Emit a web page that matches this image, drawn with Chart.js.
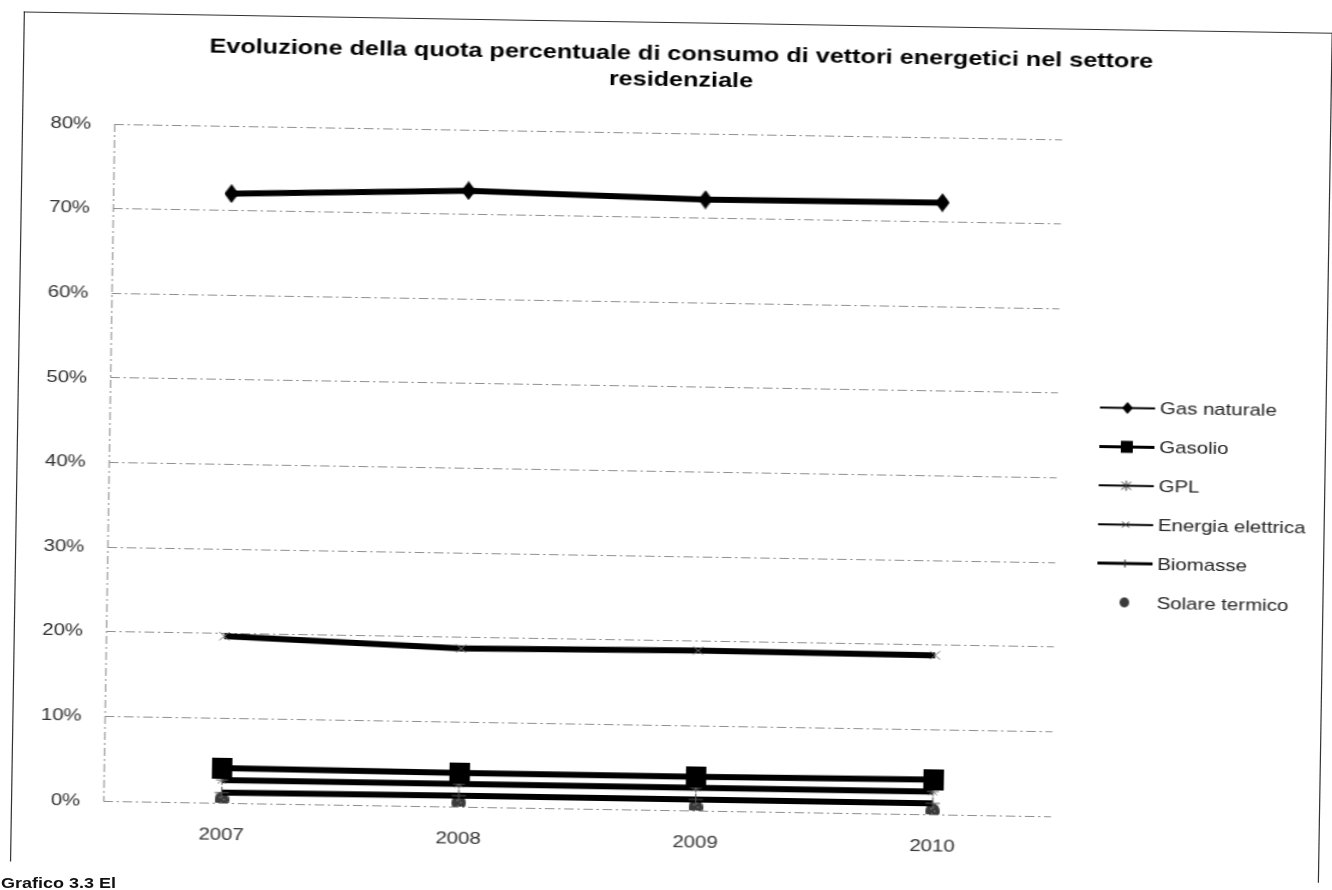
<!DOCTYPE html>
<html>
<head>
<meta charset="utf-8">
<script src="https://cdn.jsdelivr.net/npm/chart.js@4/dist/chart.umd.min.js"></script>
<style>
html,body{margin:0;padding:0;background:#fff;width:1332px;height:890px;overflow:hidden}
#wrap{position:absolute;left:111px;top:0;width:1110px;height:890px;transform-origin:555px 445px;transform:rotate(0.93deg) scale(1.2,1)}
#frame{position:absolute;left:14px;top:22px;width:1091px;height:850px;border:1.5px solid #333;border-bottom:none;box-sizing:border-box}
#c{position:absolute;left:0;top:0}
#cap{position:absolute;left:1px;top:874px;font:bold 15px "Liberation Sans",Arial,sans-serif;color:#111;transform:scaleX(1.2);transform-origin:0 0;white-space:nowrap}
</style>
</head>
<body>
<div id="wrap">
  <div id="frame"></div>
  <canvas id="c" width="1110" height="890"></canvas>
</div>
<div id="cap">Grafico 3.3 El</div>
<script>
// ---- data ----
const categories = ['2007', '2008', '2009', '2010'];
const gasNaturale = [72.0, 72.8, 72.2, 72.3];
const gasolio = [4.1, 4.0, 4.0, 4.1];
const gpl = [2.7, 2.7, 2.7, 2.7];
const energiaElettrica = [19.7, 18.7, 18.9, 18.8];
const biomasse = [1.2, 1.3, 1.3, 1.3];
const solareTermico = [0.35, 0.45, 0.35, 0.35];
const seriesLabels = ['Gas naturale', 'Gasolio', 'GPL', 'Energia elettrica', 'Biomasse', 'Solare termico'];
const titleLines = ['Evoluzione della quota percentuale di consumo di vettori energetici nel settore', 'residenziale'];
const yTickValues = [0, 10, 20, 30, 40, 50, 60, 70, 80];

const FONT = '"Liberation Sans", Arial, sans-serif';

// ---- marker images ----
function mk(w, h, draw) {
  const c = document.createElement('canvas');
  c.width = w; c.height = h;
  const g = c.getContext('2d');
  draw(g, w, h);
  return c;
}
function diamond(w, h) {
  return mk(w, h, (g) => {
    g.fillStyle = '#000';
    g.beginPath(); g.moveTo(w / 2, 0); g.lineTo(w, h / 2); g.lineTo(w / 2, h); g.lineTo(0, h / 2); g.closePath(); g.fill();
  });
}
function square(w, h) {
  return mk(w, h, (g) => { g.fillStyle = '#000'; g.fillRect(0, 0, w, h); });
}
function blob(w, h) {
  return mk(w, h, (g) => {
    g.fillStyle = '#3a3a3a';
    g.beginPath(); g.ellipse(w / 2, h / 2, w / 2, h / 2, 0, 0, Math.PI * 2); g.fill();
    g.fillStyle = '#9a9a9a';
    [[0.35,0.3],[0.6,0.45],[0.4,0.65],[0.65,0.7],[0.5,0.2]].forEach(p => { g.fillRect(p[0]*w, p[1]*h, 1.2, 1.2); });
  });
}
const diamondBig = diamond(12, 19);
const squareBig = square(17, 21);
const blobBig = blob(12, 16);

// ---- plugins ----
const axisLinePlugin = {
  id: 'axisLine',
  beforeDatasetsDraw(chart) {
    const { ctx, chartArea } = chart;
    ctx.save();
    ctx.strokeStyle = '#8a8a8a';
    ctx.lineWidth = 1;
    ctx.setLineDash([8, 3, 2, 3]);
    ctx.beginPath();
    ctx.moveTo(chartArea.left + 0.5, chartArea.top);
    ctx.lineTo(chartArea.left + 0.5, chartArea.bottom);
    ctx.stroke();
    ctx.restore();
  }
};

const legendPlugin = {
  id: 'customLegend',
  afterDraw(chart) {
    const ctx = chart.ctx;
    const x0 = 916, x1 = 962, xm = 939, tx = 966;
    const y0 = 400.5, step = 38.9;
    const lw = [2, 3, 2, 2, 3, 0];
    ctx.save();
    chart.data.datasets.forEach((ds, i) => {
      const y = y0 + i * step;
      if (ds.showLine !== false) {
        ctx.strokeStyle = '#000';
        ctx.lineWidth = lw[i];
        ctx.beginPath(); ctx.moveTo(x0, y); ctx.lineTo(x1, y); ctx.stroke();
      }
      ctx.fillStyle = '#000';
      ctx.strokeStyle = '#333';
      ctx.lineWidth = 1;
      if (i === 0) {
        ctx.beginPath(); ctx.moveTo(xm, y - 6); ctx.lineTo(xm + 4.5, y); ctx.lineTo(xm, y + 6); ctx.lineTo(xm - 4.5, y); ctx.closePath(); ctx.fill();
      } else if (i === 1) {
        ctx.fillRect(xm - 5, y - 6, 10, 12);
      } else if (i === 2) {
        ctx.beginPath();
        ctx.moveTo(xm - 4, y - 4); ctx.lineTo(xm + 4, y + 4);
        ctx.moveTo(xm + 4, y - 4); ctx.lineTo(xm - 4, y + 4);
        ctx.moveTo(xm, y - 5); ctx.lineTo(xm, y + 5);
        ctx.stroke();
      } else if (i === 3) {
        ctx.beginPath(); ctx.moveTo(xm - 3, y - 3); ctx.lineTo(xm + 3, y + 3); ctx.moveTo(xm + 3, y - 3); ctx.lineTo(xm - 3, y + 3); ctx.stroke();
      } else if (i === 4) {
        ctx.beginPath(); ctx.moveTo(xm, y - 4); ctx.lineTo(xm, y + 4); ctx.stroke();
      } else {
        ctx.fillStyle = '#3a3a3a';
        ctx.beginPath(); ctx.ellipse(xm, y, 4, 5, 0, 0, Math.PI * 2); ctx.fill();
      }
      ctx.fillStyle = '#222';
      ctx.font = '17px ' + FONT;
      ctx.textBaseline = 'middle';
      ctx.textAlign = 'left';
      ctx.fillText(ds.label, tx, y + 1);
    });
    ctx.restore();
  }
};

const lineDs = (label, data, extra) => Object.assign({
  label, data,
  borderColor: '#000',
  backgroundColor: '#000',
  borderWidth: 6,
  tension: 0,
  fill: false,
  pointRadius: 8,
  pointHoverRadius: 8
}, extra);

new Chart(document.getElementById('c'), {
  type: 'line',
  data: {
    labels: categories,
    datasets: [
      lineDs(seriesLabels[0], gasNaturale, { pointStyle: diamondBig }),
      lineDs(seriesLabels[1], gasolio, { pointStyle: squareBig }),
      lineDs(seriesLabels[2], gpl, { pointStyle: 'star', pointRadius: 5, pointBorderWidth: 1, pointBorderColor: '#666' }),
      lineDs(seriesLabels[3], energiaElettrica, { pointStyle: 'crossRot', pointRadius: 6, pointBorderWidth: 1, pointBorderColor: '#777' }),
      lineDs(seriesLabels[4], biomasse, { pointStyle: 'cross', pointRadius: 6, pointBorderWidth: 1, pointBorderColor: '#555' }),
      lineDs(seriesLabels[5], solareTermico, { showLine: false, borderWidth: 0, pointStyle: blobBig })
    ]
  },
  options: {
    responsive: false,
    animation: false,
    devicePixelRatio: 1,
    layout: { padding: { left: 15, right: 0, top: 0, bottom: 0 } },
    plugins: {
      legend: { display: false },
      tooltip: { enabled: false },
      title: {
        display: true,
        text: titleLines,
        color: '#000',
        font: { family: FONT, size: 21, weight: 'bold', lineHeight: 1.2 },
        padding: { top: 42.1, bottom: 40.5 }
      }
    },
    scales: {
      x: {
        offset: true,
        grid: { display: false, drawTicks: false },
        border: { display: false },
        ticks: { color: '#333', font: { family: FONT, size: 17 }, padding: 22.5, maxRotation: 0 },
        afterFit(s) { s.height = 80; }
      },
      y: {
        min: 0, max: 80,
        afterBuildTicks(s) { s.ticks = yTickValues.map(v => ({ value: v })); },
        grid: { color: '#8f8f8f', lineWidth: 1, drawTicks: false },
        border: { display: false, dash: [8, 3, 2, 3] },
        ticks: { color: '#333', font: { family: FONT, size: 17 }, padding: 19.1, callback: v => v + '%' },
        afterFit(s) { s.width = 75.8; }
      },
      yR: {
        position: 'right',
        display: true,
        grid: { display: false, drawTicks: false },
        border: { display: false },
        ticks: { display: false },
        afterFit(s) { s.width = 229.2; }
      }
    }
  },
  plugins: [axisLinePlugin, legendPlugin]
});
</script>
</body>
</html>
